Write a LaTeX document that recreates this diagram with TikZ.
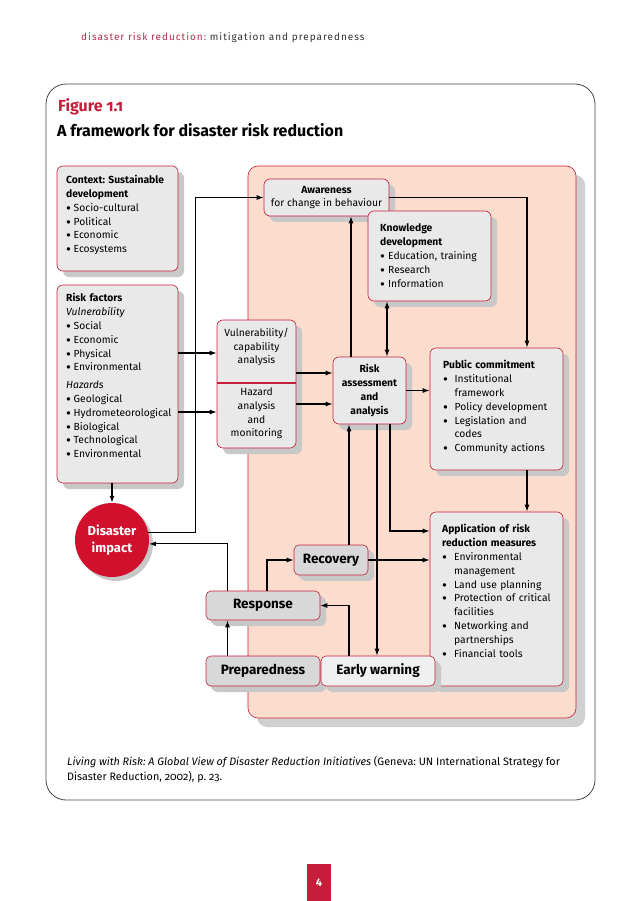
\documentclass[tikz,border=0pt]{standalone}
\usepackage{graphicx}
\usepackage{fontspec}
\setmainfont{Fira Sans}
\newfontfamily\onum{Fira Sans}[Numbers=OldStyle]
\usetikzlibrary{arrows.meta,shadows,calc}
\definecolor{crim}{RGB}{198,30,58}
\definecolor{panel}{RGB}{252,221,205}
\definecolor{boxg}{RGB}{233,233,233}
\definecolor{boxd}{RGB}{216,216,216}
\definecolor{boxl}{RGB}{240,240,240}
\definecolor{shad}{RGB}{200,200,200}
\definecolor{dired}{RGB}{208,16,44}
\definecolor{hdred}{RGB}{185,45,80}
\definecolor{hdgray}{RGB}{50,50,50}
\definecolor{framegray}{RGB}{70,70,70}
\newcommand\bodyf{\fontsize{10.3}{13.8}\selectfont}
\newcommand\bdot{\raisebox{-2.1pt}{\scalebox{1.45}{•}}}
\newcommand\bul[2][7.5pt]{\par\hangindent=#1\hangafter=1\noindent\makebox[#1][l]{\bdot}#2}
\begin{document}
\frenchspacing
\begin{tikzpicture}[x=1pt,y=-1pt,
  box/.style={draw=crim, line width=0.6pt, fill=boxg, rounded corners=6pt, inner sep=0pt,
    drop shadow={shadow xshift=6pt, shadow yshift=-6pt, fill=shad, opacity=1}},
  sbox/.style={box, rounded corners=5pt, fill=boxd, font=\bfseries\fontsize{13.5}{15}\selectfont,
    drop shadow={shadow xshift=4pt, shadow yshift=-4pt, fill=shad, opacity=1}},
  txt/.style={inner sep=0pt, anchor=north west, font=\bodyf},
  ctxt/.style={inner sep=0pt, align=center, font=\bodyf},
  arr/.style={-{Latex[length=7pt,width=5pt]}, line width=1.2pt},
  arrb/.style={{Latex[length=7pt,width=5pt]}-{Latex[length=7pt,width=5pt]}, line width=1.2pt}]
\useasboundingbox (0,0) rectangle (638,901);
\fill[white] (0,0) rectangle (638,901);

% header
\node[anchor=base west, inner sep=0pt, font=\fontsize{10}{12}\selectfont\addfontfeature{LetterSpace=10}] (hdr) at (81,40.5)
  {\textcolor{hdred}{disaster risk reduction:} \textcolor{hdgray}{mitigation and preparedness}};

% frame
\draw[framegray, line width=0.8pt, rounded corners=20pt] (46,84) rectangle (595,800);
\node[anchor=base west, inner sep=0pt, text=crim, font=\bfseries\fontsize{16}{18}\selectfont] (fig) at (58,111.5) {Figure {\onum 1.1}};
\node[anchor=base west, inner sep=0pt, font=\bfseries\fontsize{16}{19}\selectfont] (ttl) at (57,137) {A framework for disaster risk reduction};

% panel
\path[draw=crim, line width=0.6pt, fill=panel, rounded corners=10pt,
  drop shadow={shadow xshift=9pt, shadow yshift=-9pt, fill=shad!85, opacity=1}] (248,166) rectangle (576,718);

% left boxes
\node[box, minimum width=121pt, minimum height=105pt] (cx) at (117.5,218.5) {};
\node[txt, text width=140pt] (cxt) at (66,173.8) {\raggedright\strut\textbf{Context: Sustainable}\newline\textbf{development}\bul{Socio-cultural}\bul{Political}\bul{Economic}\bul{Ecosystems}};

\node[box, minimum width=121pt, minimum height=198pt] (rf) at (117.5,384) {};
\node[txt, text width=140pt] (rft) at (66,292) {\raggedright\strut\textbf{Risk factors}\newline\textit{Vulnerability}\bul{Social}\bul{Economic}\bul{Physical}\bul{Environmental}\par\vspace{4pt}\textit{Hazards}\bul{Geological}\bul{Hydrometeorological}\bul{Biological}\bul{Technological}\bul{Environmental}};

\node[circle, fill=dired, minimum size=74pt, inner sep=0pt, text=white, align=center,
  font=\bfseries\fontsize{13}{16.5}\selectfont,
  drop shadow={shadow xshift=4pt, shadow yshift=-4pt, fill=shad, opacity=1}] (di) at (112,540) {Disaster\\impact};

% upper boxes
\node[box, minimum width=125pt, minimum height=37pt, align=center, font=\bodyf,
  drop shadow={shadow xshift=2pt, shadow yshift=-2pt, fill=shad, opacity=1}] (aw) at (326.5,197.5) {\textbf{Awareness}\\for change in behaviour};
\node[box, minimum width=123pt, minimum height=90pt] (kn) at (429.5,256) {};
\node[txt, text width=140pt] (knt) at (380,222) {\raggedright\strut\textbf{Knowledge}\newline\textbf{development}\bul[8pt]{Education, training}\bul[8pt]{Research}\bul[8pt]{Information}};

% vulnerability / hazard
\node[box, minimum width=79pt, minimum height=128pt] (vh) at (256.5,384) {};
\draw[crim, line width=1.3pt] ([yshift=1pt]vh.west) -- ([yshift=1pt]vh.east);
\node[ctxt] (vt) at (256.5,347) {Vulnerability/\\capability\\analysis};
\node[ctxt] (hz) at (256.5,413.5) {Hazard\\analysis\\and\\monitoring};

\node[box, minimum width=73pt, minimum height=67pt, align=center, font=\bfseries\bodyf] (ra) at (369.5,390.5) {Risk\\assessment\\and\\analysis};

\node[box, minimum width=133pt, minimum height=122pt] (pc) at (496.5,409) {};
\node[txt, text width=140pt] (pct) at (443,359) {\raggedright\strut\textbf{Public commitment}\bul[11.5pt]{Institutional\newline framework}\bul[11.5pt]{Policy development}\bul[11.5pt]{Legislation and\newline codes}\bul[11.5pt]{Community actions}};

\node[box, minimum width=133pt, minimum height=174pt] (ap) at (496.5,599) {};
\node[txt, text width=140pt] (apt) at (442,523) {\raggedright\strut\textbf{Application of risk}\newline\textbf{reduction measures}\bul[12pt]{Environmental\newline management}\bul[12pt]{Land use planning}\bul[12pt]{Protection of critical\newline facilities}\bul[12pt]{Networking and\newline partnerships}\bul[12pt]{Financial tools}};

% lower boxes
\node[sbox, minimum width=74pt, minimum height=30pt] (rc) at (331,560) {Recovery};
\node[sbox, minimum width=114pt, minimum height=29pt] (re) at (263,605.5) {Response};
\node[sbox, minimum width=114pt, minimum height=30pt] (pr) at (263,671) {Preparedness};
\node[sbox, fill=boxl, minimum width=114pt, minimum height=30pt] (ew) at (378,671) {Early warning};

% connectors
\draw[arr] (di.north |- rf.south) -- (di.north);
\draw[arr] (di.12) -- ++(47,0) |- (aw.west);
\coordinate (v1) at ([yshift=31pt]vh.west);
\coordinate (v2) at ([yshift=-28pt]vh.west);
\coordinate (v3) at ([yshift=11pt]vh.east);
\coordinate (v4) at ([yshift=-20pt]vh.east);
\draw[arr] (v1 -| rf.east) -- (v1);
\draw[arr] (v2 -| rf.east) -- (v2);
\draw[arr] (v3) -- (v3 -| ra.west);
\draw[arr] (v4) -- (v4 -| ra.west);
\draw[arr] (ra.east) -- (ra.east -| pc.west);
\coordinate (a1) at ([xshift=-18.5pt]ra.north);
\draw[arr] (a1) -- (a1 |- aw.south);
\coordinate (a2) at ([xshift=17.5pt]ra.north);
\draw[arrb] (a2) -- (a2 |- kn.south);
\draw[arr] (aw.east) -| ([xshift=30.5pt]pc.north);
\draw[arr] ([xshift=30.5pt]pc.south) -- ([xshift=30.5pt]ap.north);
\coordinate (b1) at ([xshift=18pt]rc.north);
\draw[arr] (b1) -- (b1 |- ra.south);
\draw[arr] (rc.east) -- (rc.east -| ap.west);
\coordinate (b2) at ([xshift=7.5pt]ra.south);
\draw[arr] (b2) -- (b2 |- ew.north);
\coordinate (b3) at ([xshift=20.5pt]ra.south);
\draw[arr] (b3) |- ([yshift=68pt]ap.west);
\draw[arr] ([xshift=-35.5pt]re.north) |- (di.-6);
\draw[arr] ([xshift=4pt]re.north) |- (rc.west);
\draw[arr] ([xshift=-35.5pt]pr.north) -- ([xshift=-35.5pt]re.south);
\draw[arr] ([xshift=-29pt]ew.north) |- (re.east);

% citation
\node[anchor=base west, inner sep=0pt, font=\fontsize{10.8}{14}\selectfont] (cit1) at (67,765.5)
  {\textit{Living with Risk: A Global View of Disaster Reduction Initiatives} (Geneva: UN International Strategy for};
\node[anchor=base west, inner sep=0pt, font=\fontsize{10.8}{14}\selectfont] (cit2) at (67,780.5)
  {Disaster Reduction, {\onum 2002}), p. {\onum 23}.};

% page number
\node[fill=crim, minimum width=24pt, minimum height=37pt, inner sep=0pt, anchor=north, text=white,
  font=\bfseries\fontsize{11}{13}\selectfont] (pg) at (319,864) {4};
\end{tikzpicture}
\end{document}
